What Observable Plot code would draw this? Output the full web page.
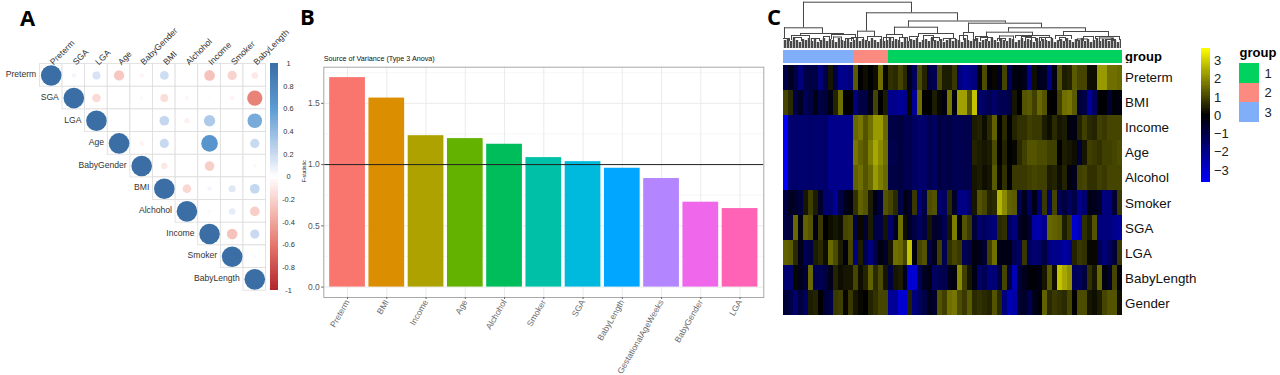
<!DOCTYPE html>
<html>
<head>
<meta charset="utf-8">
<script src="https://cdn.jsdelivr.net/npm/d3@7"></script>
<script src="https://cdn.jsdelivr.net/npm/@observablehq/plot@0.6"></script>
<style>
  html, body { margin: 0; padding: 0; background: #fff; }
  #page { position: relative; width: 1280px; height: 375px; overflow: hidden; font-family: "Liberation Sans", sans-serif; }
  .letter { position: absolute; font: bold 22px/22px "Open Sans", sans-serif; color: #000; }
</style>
</head>
<body>
<div id="page">
  <div class="letter" style="left:20px;top:6px">A</div>
  <div class="letter" style="left:300px;top:5px">B</div>
  <div class="letter" style="left:767px;top:5px">C</div>
</div>
<script>
// ---------- Panel A: correlation matrix ----------
const corrVars = ["Preterm","SGA","LGA","Age","BabyGender","BMI","Alchohol","Income","Smoker","BabyLength"];
const corrPreterm    = [1,.05,.15,-.25,-.05,.18,0,-.27,-.2,-.1];
const corrSGA        = [1,-.17,-.01,-.03,-.15,-.04,-.02,-.05,-.55];
const corrLGA        = [1,-.01,0,.22,-.07,.3,0,.5];
const corrAge        = [1,-.05,.2,0,.65,-.02,.2];
const corrBabyGender = [1,-.1,0,-.22,0,-.03];
const corrBMI        = [1,-.18,.05,.12,.22];
const corrAlchohol   = [1,-.03,.1,-.22];
const corrIncome     = [1,-.27,.2];
const corrSmoker     = [1,.03];
const corrBabyLength = [1];
const corrRows = [corrPreterm,corrSGA,corrLGA,corrAge,corrBabyGender,corrBMI,corrAlchohol,corrIncome,corrSmoker,corrBabyLength];
const corrBarTicks = [1,.8,.6,.4,.2,0,-.2,-.4,-.6,-.8,-1];
const corrColor = {type:"linear", domain:[-1,-.6,-.2,0,.2,.6,1],
  range:["#b2262e","#e6776c","#f9d3cd","#ffffff","#c9daf0","#5d9bd3","#3a6ea5"], clamp:true};

// ---------- Panel B: F-statistic bars ----------
const anovaNames = ["Preterm","BMI","Income","Age","Alchohol","Smoker","SGA","BabyLength","GestationalAgeWeeks","BabyGender","LGA"];
const anovaValues = [1.71,1.543,1.236,1.212,1.166,1.057,1.024,0.97,0.886,0.693,0.641];
const anovaColors = ["#F8766D","#DB8E00","#AEA200","#64B200","#00BD5C","#00C1A7","#00BADE","#00A6FF","#B385FF","#EF67EB","#FF63B6"];

// ---------- Panel C: heatmap ----------
const heatRows = ["Preterm","BMI","Income","Age","Alcohol","Smoker","SGA","LGA","BabyLength","Gender"];
const hPreterm = [-1,-.5,-1,-1.8,-1,-1,-1,-1.8,-1,.3,-1,-2,-2,-1.8,1.3,0,.2,0,.2,1.6,.1,.7,.6,
  1,.6,-.5,-1.3,1.1,.5,-1,-1.2,1.1,.4,.4,.8,-1.8,-2.1,-2,-1.8,-.2,1.1,-.1,.1,-.5,1,-1.2,
  -.3,-.1,-.4,-2,.2,-.4,-.5,-1.8,-.3,1.2,.4,.5,1.3,1,1,.2,.2,2.2,2.2,1.6,1.6,1.5];
const hBMI = [1,.6,-1,-.5,-1.3,-1,-.3,-1,-.8,-.3,.5,1.6,0,0,-1.8,-1,-1,-.3,1,0,.4,-2,-2,
  -2.2,-2,.1,-2.2,1.6,0,0,.4,.1,-.2,1.7,-.2,2.3,2.3,1.2,2.8,-1.5,-1.4,-1.2,-1.5,-1.2,-1.2,-1,
  .3,0,1.2,1.3,.9,1.5,1.2,0,0,.9,1.6,1.7,1.3,-.8,-1,-2.2,-1.4,0,-.1,-.7,-.1,-.2];
const hIncome = [-3.6,-1.6,-1.5,-1.6,-1.6,-1.5,-1.6,-1.6,-1.5,-2,-2,-2,-2,-2,1.5,1.7,1.2,1.6,2.2,2.2,1.5,-1,-1,
  -.9,-1.2,-1.1,-1.4,-1.6,-1.5,-1.2,-1.4,-.9,-1.1,-1,-1.2,-1.2,-1.1,-1.1,.4,.5,.2,.6,1.4,0,.6,-.1,
  .5,.7,.7,.9,.8,.8,.4,.2,.6,.3,.4,-.2,-.3,.5,.9,.6,.5,.9,.8,1,1,1];
const hAge = [-3.6,-1.6,-1.5,-1.6,-1.6,-1.5,-1.6,-1.6,-1.5,-2,-2,-2,-2,-2,1.7,1.4,1.2,1.8,2.4,2,1.6,-1.1,-1.1,
  -.9,-1.2,-1.1,-1.4,-1.6,-1.5,-1.2,-1.4,-.9,-1.1,-1,-1.2,-1.2,-1.1,-1.1,.5,.4,.3,.4,1.1,0,.5,0,
  .1,.6,.9,1.2,1.2,1.1,1.1,.9,.9,0,.4,.3,.2,-.8,.3,.9,.8,.7,.9,.9,1,1.1];
const hAlcohol = [-3.6,-1.6,-1.5,-1.6,-1.6,-1.5,-1.6,-1.6,-1.5,-2,-2,-2,-2,-2,1.4,1.6,1.2,1.5,2.2,1.8,1.5,-1,-1,
  -.9,-1.2,-1.1,-1.4,-1.6,-1.5,-1.2,-1.4,-.9,-1.1,-1,-1.2,-1.2,-1.1,-1.1,.3,.4,.2,.3,1.3,.1,.7,-.1,
  .8,.8,.8,.9,1,.9,.9,.4,.5,.2,.5,-.2,-.4,.9,1,.7,.7,.9,.8,1,1,1];
const hSmoker = [-1,-.5,-.6,-.9,.3,.9,.4,-.6,-1.6,-1.6,-2.2,-1,-.4,-.2,.7,1.4,1.2,.4,-.4,-.8,1.2,1,.6,
  -1,-.3,-.6,.8,-1.8,-1,1.1,1.2,-1.6,-1.4,.6,-.6,-1.9,-1.9,-1.5,.3,1.2,1,.5,.6,2.6,2,1.4,
  1.3,-1.2,-.4,-1.4,-.3,-1.6,.8,-1.5,1,-1.3,-.9,-1.4,-1,-2,-1.6,-.3,-.4,-.6,-1.8,-1.8,-.8,.8];
const hSGA = [-1,-.8,1.5,-.2,1.4,1.2,-.3,.8,0,.2,.3,.2,1,1.1,-1,.1,-.7,.4,-1,-1,.3,-1.5,-.5,
  1.6,.2,-.6,-1,-1.4,-1,.3,-.6,-.7,-1.2,.3,1.8,-.2,1.2,.8,-.8,-1.6,-1.4,-1.6,-1.7,.6,.7,-1.4,
  -1.8,-.6,-.3,-.7,-2.4,-2.5,-2,1.5,1.4,1.3,.4,.8,-3,-2.6,.7,.4,1.2,-1.8,-1.8,-1.8,-2,-2.2];
const hLGA = [1.4,1.3,.6,-.4,-1.2,-1,.4,.6,.2,1.5,1.1,.4,-.2,1,-1.8,.4,-1.2,-1.8,-1,-.3,-.6,.3,1.6,
  1.5,1,2.8,-.2,1,1.2,-1,-.4,.9,-1.2,.7,1,.8,-1.2,-1,-.2,-.4,-.7,.9,1.6,-.3,-.3,-.3,
  -1.2,-1.4,.8,-1.4,-1.6,-1.5,-1,-1.8,-2,-2,-2.3,-2,.5,.8,.7,.1,.1,-1.2,-1.7,-1.4,-.8,.8];
const hBabyLength = [-1.6,-1.6,.1,-.4,-.8,1.5,-1.2,-1.2,-.9,-.4,.5,.2,.3,.3,1,.2,.5,1.4,.6,1.1,.3,-1,.3,
  .4,-.5,-3,-3,-1.2,-.5,-.3,-1.4,-1.2,-1.1,-.4,-.2,2,.9,.3,-.3,-1.5,-1.2,-1.8,-1.7,-.9,1,-1,
  -2.6,-.8,-.4,-.1,-.1,-.3,.3,1.3,.2,2.8,2.4,2.1,-1.3,-1.4,-.9,.7,.3,1.5,-.2,-.6,1,-.2];
const hGender = [-.8,-1,-1.6,-.9,-1.4,.4,.5,0,-.8,-1,.8,.9,.1,.8,.3,.1,0,.5,.7,1,1,-2.2,-2.2,
  -3,-3,.5,-1.8,-1.4,-1,-.4,-.6,1.2,.9,1.6,1.7,1.1,.8,1.3,.6,.7,.6,.5,1.2,.6,-1.8,-2.6,
  -2.4,-.7,-.6,-1.2,-.4,-.1,1.4,.6,.8,.7,.6,1,0,1.1,1.1,.3,.2,.4,1,1.2,1.2,.2];
const heatValues = [hPreterm,hBMI,hIncome,hAge,hAlcohol,hSmoker,hSGA,hLGA,hBabyLength,hGender];
const heatBarTicks = [3,2,1,0,-1,-2,-3];
const heatColor = {type:"linear", domain:[-3.67,0,3.67], range:["#0000ff","#000000","#ffff00"], clamp:true};

const groupNames = [1,2,3];
const groupColors = ["#00D25F","#FB8A80","#80AEF8"];
const columnGroups = [3,3,3,3,3,3,3,3,3,3,3,3,3,3, 2,2,2,2,2,2,2,
  1,1,1,1,1,1,1,1,1,1,1,1,1,1,1,1,1,1,1,1,1,1,1,1,1,1,1,1,1,1,1,1,1,1,1,1,1,1,1,1,1,1,1,1,1,1,1];

// dendrogram joins: two leaf positions, join height, heights of the two legs
const dendA  = [20,1,83,74,125,111,185,180,225,203,280,17,8,48,68,84,103,135,197,232,272,312,-2,28,62,116,148,160,214,242,258,294,322,
  10,40,50,100,126,140,176,192,216,238,256,276,300,316];
const dendB  = [128,39,174,91,222,154,258,190,302,249,325,60,26,72,80,98,119,170,209,266,288,336,6,36,70,124,156,172,222,252,268,304,332,
  18,46,58,110,134,150,184,204,230,248,262,282,310,330];
const dendH  = [46.3,20.7,35.7,17.3,27.5,21.3,25.3,16,20.7,16.3,17,15,13,14,11,12,14,15,11,13,13,12,10,10,10,11,11,10,10,11,11,9.5,9,
  11,12,11.5,11,12,13,13,12,12.5,12,11,11,12,10.5];
const dendHa = [20.7,10,17.3,11,21.3,14,16,8,16.3,11,13,13,8,9,7,7,8,11,7,10,9,9,7,7,7,7,7,7,7,7,7,7,7,
  7,7,7,7,7,7,7,7,7,7,7,7,7,7];
const dendHb = [35.7,15,27.5,12,25.3,15,20.7,8,17,13,12,14,10,10,7,8,10,10,7,11,9,8,7,7,7,7,7,7,7,7,7,7,7,
  7,7,7,7,7,7,7,7,7,7,7,7,7,7];
// height of the dense lowest branches, one reading per 3 leaf-position units
const combHeights = [8,9,7,10,8,6,9,8,10,7,9,6,8,10,7,9,8,6,10,8,7,9,6,8,10,7,9,8,7,10,8,6,9,7,8,10,
  7,9,8,6,10,7,9,8,10,6,8,9,7,10,8,7,9,6,8,10,7,9,8,6,10,8,7,9,10,6,8,9,7,10,8,6,9,8,7,10,
  9,6,8,10,7,9,8,6,10,7,9,8,7,10,6,8,9,7,10,8,6,9,8,10,7,9,6,8,10,7,9,8,7,10,8,6,9];

// ---------- helpers ----------
const page = document.getElementById("page");
function place(svg, left, top) {
  svg.style.position = "absolute";
  svg.style.left = left + "px";
  svg.style.top = top + "px";
  svg.style.maxWidth = "none";
  svg.style.height = svg.getAttribute("height") + "px";
  svg.style.background = "transparent";
  page.appendChild(svg);
}
heatValues.forEach((r, i) => { if (r.length !== 68) throw new Error(heatRows[i] + " has " + r.length); });
if (columnGroups.length !== 68) throw new Error("groups " + columnGroups.length);
const font = "Liberation Sans";

// ---------- Panel A ----------
const corrData = corrRows.flatMap((row, i) => row.map((v, k) => ({row: corrVars[i], col: corrVars[i + k], v})));
place(Plot.plot({
  width: 310, height: 300,
  marginLeft: 39.4, marginRight: 44.4, marginTop: 63.6, marginBottom: 9.8,
  style: {fontFamily: font},
  x: {domain: corrVars, padding: 0, round: false, axis: null},
  y: {domain: corrVars, padding: 0, round: false, axis: null},
  r: {type: "sqrt", domain: [0, 1], range: [0, 10.3]},
  color: corrColor,
  marks: [
    Plot.cell(corrData, {x: "col", y: "row", fill: "#fff", stroke: "#dcdcdc", strokeWidth: 0.8}),
    Plot.dot(corrData, {x: "col", y: "row", r: d => Math.abs(d.v), fill: "v"}),
    Plot.text(corrVars, {x: d => d, y: d => d, dx: -15, dy: -1, textAnchor: "end", fontSize: 8.6, fill: "#333"}),
    Plot.text(corrVars, {x: d => d, frameAnchor: "top", dx: -2, dy: -3, rotate: -45, textAnchor: "start", fontSize: 8.6, fill: "#333"})
  ]
}), 0, 0);

const corrStops = d3.range(-1, 1, 0.02);
place(Plot.plot({
  width: 36, height: 239,
  marginLeft: 0, marginRight: 0, marginTop: 6, marginBottom: 6,
  style: {fontFamily: font},
  x: {domain: [0, 4.5], axis: null},
  y: {domain: [-1, 1], axis: null},
  color: corrColor,
  marks: [
    Plot.rect(corrStops, {x1: 0, x2: 1, y1: d => d, y2: d => d + 0.02, fill: d => d + 0.01, shapeRendering: "crispEdges"}),
    Plot.text(corrBarTicks, {x: 2.25, y: d => d, text: d => String(d), fontSize: 7.4, fill: "#333"})
  ]
}), 269.5, 57.3);

// ---------- Panel B ----------
const anovaData = anovaNames.map((name, i) => ({name, value: anovaValues[i]}));
place(Plot.plot({
  width: 476, height: 325,
  marginLeft: 33.3, marginRight: 2.7, marginTop: 16.7, marginBottom: 78,
  style: {fontFamily: font},
  x: {domain: anovaNames, paddingInner: 0.09, paddingOuter: 0.15, align: 0.5, round: false},
  y: {domain: [-0.085, 1.795]},
  color: {domain: anovaNames, range: anovaColors},
  marks: [
    Plot.gridY([0.25, 0.75, 1.25, 1.75], {stroke: "#f2f2f2", strokeOpacity: 1, strokeWidth: 0.6}),
    Plot.gridY([0, 0.5, 1, 1.5], {stroke: "#ebebeb", strokeOpacity: 1}),
    Plot.gridX(anovaNames, {x: d => d, stroke: "#ebebeb", strokeOpacity: 1}),
    Plot.barY(anovaData, {x: "name", y: "value", fill: "name"}),
    Plot.ruleY([1], {stroke: "#222", strokeWidth: 1}),
    Plot.frame({stroke: "#a8a8a8"}),
    Plot.axisY([0, 0.5, 1, 1.5], {tickFormat: d3.format(".1f"), tickSize: 2, tickPadding: 2, fontSize: 8.5, color: "#555", label: null}),
    Plot.axisX({tickRotate: -60, tickSize: 2, tickPadding: 1, fontSize: 8.5, color: "#6a6a6a", label: null}),
    Plot.text(["Source of Variance (Type 3 Anova)"], {frameAnchor: "top-left", dy: -11, textAnchor: "start", fontSize: 7.2, fill: "#111"}),
    Plot.text(["F-statistic"], {frameAnchor: "left", dx: -19, rotate: -90, fontSize: 5.2, fill: "#111"})
  ]
}), 290, 50);

// ---------- Panel C ----------
const columnIds = columnGroups.map((g, i) => i);
const heatData = heatRows.flatMap((row, r) => heatValues[r].map((v, c) => ({row, c, v})));
const dendSegs = dendA.map((a, i) => ({a, b: dendB[i], h: dendH[i], ha: dendHa[i], hb: dendHb[i]}));

place(Plot.plot({
  width: 338.6, height: 48,
  margin: 0,
  x: {domain: [0, 338.6], axis: null},
  y: {domain: [0, 48], axis: null},
  marks: [
    Plot.ruleX(combHeights, {x: (d, i) => i * 3 + 1.5, y1: 0, y2: d => d, stroke: "#4a4a4a", strokeWidth: 2.4}),
    Plot.ruleY(dendSegs, {y: "h", x1: "a", x2: "b", stroke: "#444", strokeWidth: 1}),
    Plot.ruleX(dendSegs, {x: "a", y1: "ha", y2: "h", stroke: "#444", strokeWidth: 1}),
    Plot.ruleX(dendSegs, {x: "b", y1: "hb", y2: "h", stroke: "#444", strokeWidth: 1})
  ]
}), 782.7, 0);

place(Plot.plot({
  width: 430, height: 13.6,
  marginLeft: 0, marginRight: 91.4, marginTop: 0, marginBottom: 0,
  style: {fontFamily: font},
  x: {domain: columnIds, padding: 0, round: false, axis: null},
  color: {domain: groupNames, range: groupColors},
  marks: [
    Plot.cell(columnIds, {x: d => d, fill: d => columnGroups[d], shapeRendering: "crispEdges"}),
    Plot.text(["group"], {frameAnchor: "right", dx: 3, textAnchor: "start", fontSize: 13, fontWeight: "bold", fill: "#000"})
  ]
}), 782.7, 49.7);

place(Plot.plot({
  width: 430, height: 250.4,
  marginLeft: 0, marginRight: 91.4, marginTop: 0, marginBottom: 0,
  style: {fontFamily: font},
  x: {domain: columnIds, padding: 0, round: false, axis: null},
  y: {domain: heatRows, padding: 0, round: false, label: null},
  color: heatColor,
  marks: [
    Plot.cell(heatData, {x: "c", y: "row", fill: "v", shapeRendering: "crispEdges"}),
    Plot.axisY({anchor: "right", tickSize: 0, tickPadding: 3, fontSize: 13.4, color: "#111", label: null})
  ]
}), 782.7, 65.3);

const heatStops = d3.range(-3.67, 3.67, 0.06);
place(Plot.plot({
  width: 36, height: 134.4,
  margin: 0,
  style: {fontFamily: font},
  x: {domain: [0, 36], axis: null},
  y: {domain: [-3.67, 3.67], axis: null},
  color: heatColor,
  marks: [
    Plot.rect(heatStops, {x1: 0, x2: 9, y1: d => d, y2: d => d + 0.06, fill: d => d + 0.03, shapeRendering: "crispEdges"}),
    Plot.text(heatBarTicks, {x: 12.5, y: d => d, text: d => d < 0 ? "\u2212" + (-d) : String(d), textAnchor: "start", fontSize: 13, fill: "#222"})
  ]
}), 1201.2, 48.3);

place(Plot.plot({
  width: 41, height: 78,
  marginLeft: 0, marginRight: 21, marginTop: 19, marginBottom: 0,
  style: {fontFamily: font},
  x: {axis: null},
  y: {domain: groupNames, padding: 0, round: false, axis: null},
  color: {domain: groupNames, range: groupColors},
  marks: [
    Plot.cell(groupNames, {y: d => d, fill: d => d, shapeRendering: "crispEdges"}),
    Plot.axisY({anchor: "right", tickSize: 0, tickPadding: 5, fontSize: 13, color: "#222", label: null}),
    Plot.text(["group"], {frameAnchor: "top-left", dy: -16, textAnchor: "start", fontSize: 13, fontWeight: "bold", fill: "#000"})
  ]
}), 1239, 44);
</script>
</body>
</html>
